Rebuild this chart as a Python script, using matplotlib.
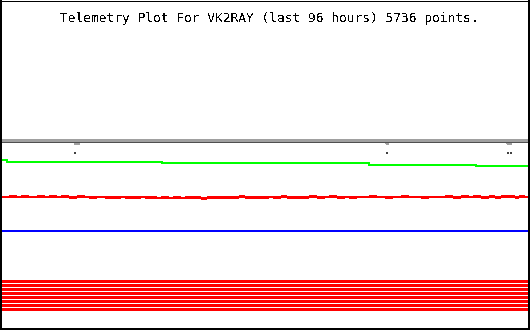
import matplotlib
matplotlib.use("Agg")
import matplotlib.pyplot as plt
import numpy as np

plt.rcParams['lines.antialiased'] = False
plt.rcParams['text.antialiased'] = False

titulo = "Telemetry Plot For VK2RAY (last 96 hours) 5736 points."

# canal gris (dos trazas casi iguales) con sus fallos
gris_t = [-96, -82.6, -82.5, -82.4, -82.0, -81.9, -81.8, -25.9, -25.8, -25.7,
          -3.9, -3.8, -3.7, -3.4, -3.3, -3.2, 0]
gris_v = [146.2, 146.2, 143.8, 146.2, 146.2, 143.8, 146.2, 146.2, 143.8, 146.2,
          146.2, 143.8, 146.2, 146.2, 143.8, 146.2, 146.2]
gris2_v = 145.2
fallos_t = [-82.5, -25.8, -3.8, -3.3]
fallos_v = [137.0, 137.0, 137.0, 137.0]

# canal verde (escalones)
verde_t = [-96, -94.9, -66.7, -29.1, -9.6, 0]
verde_v = [131.0, 129.9, 128.6, 127.5, 126.5, 126.5]

# canal rojo con ruido
b, u, d, dd = 102.5, 103.3, 101.7, 100.9
rojo_v = [b, b, b, u, b, b, u, b, b, b, u, b, b, u, b,
          b, u, b, d, b, u, b, b, d, b,
          b, b, d, b, d, b, b, d, b, d, b, b, d, b, d,
          d, b, d, d, b, d, d, b, d, b, d, dd, b, d, b,
          d, b, d, b, d, u, b, d, b, d, b, d, b, b, d, b, u, d, b, d,
          b, d, b, u, b, d, b, b, u, b, d, b, b, d, b,
          b, b, b, u, b, b, b, d, b, b, b, u, b, b, b, b, d, b, b, b,
          b, b, u, b, d, b, u, b, b, u, b, d, b, u, d, b, u, b, u, d, u, b, b]

# canal azul
azul_v = 76.1

# bandas rojas (canales digitales)
bandas_v = [37.3, 34.2, 31.1, 28.0, 24.8, 21.7, 18.6, 15.5]

fig = plt.figure(figsize=(5.3, 3.3), dpi=100)
ax = fig.add_axes([1/530, 1/330, 528/530, 328.5/330])

ax.plot(gris_t, gris_v, color="#a0a0a0", lw=1.44)
ax.plot([-96, 0], [gris2_v, gris2_v], color="#505050", lw=0.72)
ax.scatter(fallos_t, fallos_v, color="#404040", marker="s", s=1.5, lw=0)

ax.step(verde_t, verde_v, where="post", color="#00ff00", lw=1.44)

rojo_t = np.linspace(-96, 0, len(rojo_v))
ax.plot(rojo_t, rojo_v, color="red", lw=1.2)

ax.plot([-96, 0], [azul_v, azul_v], color="blue", lw=1.44)

for v in bandas_v:
     ax.plot([-96, 0], [v, v], color="red", lw=2.16)

ax.set_xlim(-96, 0)
ax.set_ylim(0, 255)
ax.set_xticks([])
ax.set_yticks([])
for s in ["left", "right", "bottom"]:
     ax.spines[s].set_linewidth(1.44)
ax.spines["top"].set_linewidth(0.72)

fig.text(60/530, (330-22)/330, titulo, family="DejaVu Sans Mono",
         fontsize=9.3, ha="left", va="baseline")

fig.savefig("out.png", dpi=100)
